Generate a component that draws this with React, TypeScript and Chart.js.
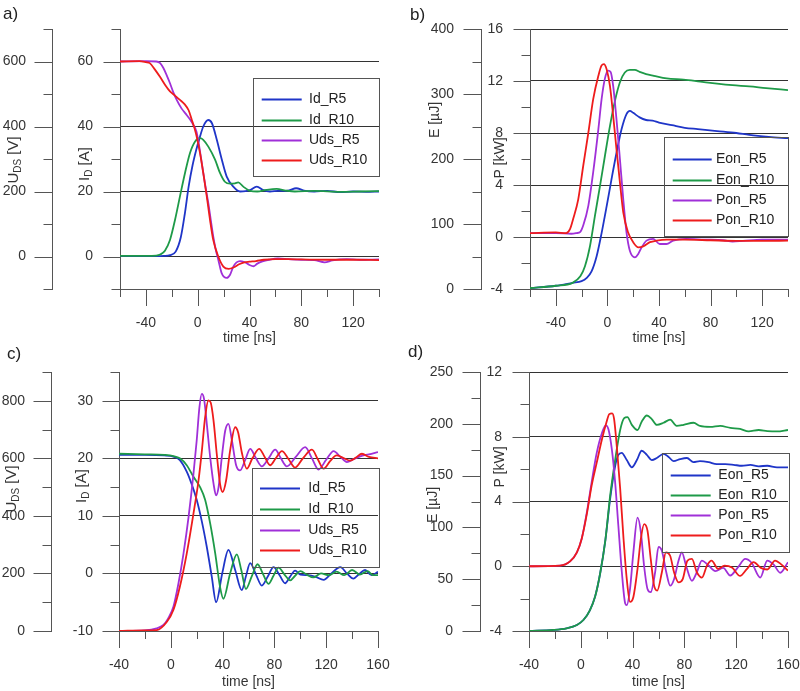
import React, { useEffect, useRef } from 'react';
import { Chart, registerables } from 'chart.js';

Chart.register(...registerables);

const FF = "'Liberation Sans', Arial, Helvetica, sans-serif";
const TEXT = '#353535';
const AXIS = '#555555';
const GRID = '#333333';
const BLUE = '#1f35c8';
const GREEN = '#1e9a48';
const PURPLE = '#a030d8';
const RED = '#ee1c1c';

// ---------- Panel a) data ----------
const aIdR5T = [-60, -40, -26, -21.4, -17, -13, -10, -7, -4, -1, 1.5, 4.3, 8.2, 11, 14.7, 18.5, 22.4, 27.5, 32.7, 37, 40.4, 45.6, 50.7, 55.8, 62, 70, 76, 82, 90, 100, 110, 120, 130, 140];
const aIdR5V = [0.2, 0.1, 0.2, 0.4, 1.5, 6, 13, 21.5, 28, 33, 36.5, 40, 42, 41, 36, 30, 24.6, 21.5, 20, 20.1, 20.4, 21.5, 20.4, 20, 20.2, 20.3, 21, 20.3, 20, 20.2, 19.8, 20, 19.9, 20];
const aIdR10T = [-60, -40, -32, -29, -25.3, -21.4, -17.5, -13.7, -9.8, -6, -2, 1.8, 4.3, 8.2, 13.4, 17.2, 21, 25, 28.8, 31.3, 35.2, 40.4, 46, 53, 61, 68, 75, 90, 110, 125, 140];
const aIdR10V = [0.2, 0.2, 0.3, 0.6, 1.8, 5.1, 11.3, 18.5, 25.7, 31.8, 35.4, 36.4, 35.9, 33.8, 29.8, 25.7, 23, 22.4, 22.5, 22.8, 21.5, 20.2, 20, 20.5, 20.8, 20.3, 20, 20.2, 19.9, 20, 20.1];
const aUdsR5T = [-60, -40, -32, -29, -26.5, -24, -21.4, -18.8, -16.2, -12.4, -9, -6, -3.4, -1, 0.5, 2.5, 4.3, 6.2, 8.2, 10, 12, 14, 15.9, 18.5, 22.4, 25, 27.5, 30, 32.7, 36, 40, 43, 46, 50, 55, 62, 70, 80, 90, 98, 104, 115, 125, 140];
const aUdsR5V = [600, 601, 600, 595, 580, 558, 533, 505, 482, 455, 438, 422, 405, 385, 355, 305, 257, 210, 164, 115, 62, 20, -10, -51, -66, -56, -31, -18, -14, -17, -26, -30, -22, -15, -10, -6, -8, -10, -11, -18, -12, -8, -10, -9];
const aUdsR10T = [-60, -45, -40, -37, -33, -29, -25, -21.4, -17.5, -13.7, -10, -7, -4.6, -2.5, -0.8, 1.8, 4.3, 7, 9.5, 12, 15.9, 19.8, 24, 28, 32, 36, 40, 45, 51, 60, 70, 80, 100, 120, 140];
const aUdsR10V = [600, 601, 598, 595, 575, 552, 527, 508, 495, 482, 468, 450, 421, 395, 369, 318, 257, 185, 113, 51, 0, -31, -38, -33, -24, -18, -16, -14, -10, -8, -8, -9, -10, -10, -11];

// ---------- Panel b) data ----------
const bEonR5T = [-60, -40, -27, -20, -16, -12.3, -8.4, -4.5, -0.6, 3.2, 7.1, 11, 14.8, 17.4, 20, 25, 30, 35, 40, 50, 60, 70, 85, 100, 110, 125, 140];
const bEonR5V = [1.5, 5, 9.5, 12, 17, 27, 50, 86, 127, 169, 210, 246, 269, 274, 271, 264, 260, 259, 256, 252, 248, 246, 243, 240, 237, 234, 232];
const bEonR10T = [-60, -40, -27, -21, -17.4, -13.5, -9.7, -5.8, -1.9, 2, 5.8, 9.7, 13.5, 17.4, 21.3, 25, 30, 36, 46, 59, 72, 85, 97, 110, 123, 140];
const bEonR10V = [1.5, 5, 9.5, 19.5, 35, 66, 112, 158, 205, 251, 289, 318, 333, 337, 337, 334, 330.6, 328, 324, 322, 319, 316, 313.6, 311.6, 309, 306];
const bPonR5T = [-60, -40, -28, -24, -21, -18.7, -14.8, -11, -7, -4.5, -1.9, 0.6, 2.5, 4.5, 7, 9.7, 12.3, 14.8, 17.4, 21.3, 23.9, 26.5, 30.3, 35.5, 40.6, 45.8, 51, 61, 75, 90, 97, 105, 120, 140];
const bPonR5V = [0.3, 0.3, 0.25, 0.3, 0.4, 0.9, 2.4, 5, 8.3, 10.6, 12.2, 12.8, 12.7, 11.6, 9.1, 6, 2.9, 0.36, -1.05, -1.56, -1.3, -0.8, -0.28, -0.15, -0.54, -0.54, -0.28, -0.15, -0.2, -0.25, -0.35, -0.3, -0.2, -0.2];
const bPonR10T = [-60, -40, -32, -29, -26.5, -22.6, -18.7, -14.8, -11, -7, -4.5, -2.7, -0.6, 2, 4.5, 7, 9.7, 12.3, 16, 20, 24, 27.7, 33, 38, 46, 60, 80, 100, 120, 140];
const bPonR10V = [0.3, 0.35, 0.3, 0.6, 1.4, 2.9, 5.5, 8, 10.6, 12.4, 13.2, 13.3, 12.9, 11.6, 9.3, 6.8, 4.2, 1.9, 0.36, -0.4, -0.8, -0.72, -0.4, -0.28, -0.2, -0.2, -0.25, -0.3, -0.3, -0.28];

// ---------- Panel c) data ----------
const cIdR5T = [-40, -20, -5, 2, 7, 12.3, 16, 20, 24, 27.8, 31.6, 35, 39.7, 44.5, 49.7, 54.8, 58, 61.3, 65.8, 70.3, 75, 79.3, 84, 88.3, 92, 96, 100, 106, 112, 118, 124, 130.9, 136, 141, 145.5, 150, 155, 160];
const cIdR5V = [20.6, 20.6, 20.5, 20.3, 19.7, 17.7, 15.6, 12.8, 9, 4.6, -0.5, -5, 0, 4.1, 0.6, -2.9, -0.5, 1.8, -0.2, -2.1, -0.5, 1.1, -0.3, -1.7, -0.6, 0.5, -0.2, -0.3, -0.6, -1.1, 0, 1.1, 0, -0.9, -0.1, 0.6, -0.3, 0.3];
const cIdR10T = [-40, -20, -5, 2, 7, 12.3, 17.5, 22.6, 26.5, 30.4, 34.3, 38, 40.6, 45.8, 51, 54.5, 58, 62.5, 67, 71, 75.4, 79.3, 83.2, 87.5, 92.2, 96, 100, 105, 110, 116, 122, 128, 134, 140, 146, 152, 156, 160];
const cIdR10V = [20.8, 20.7, 20.6, 20.4, 20, 18.8, 16.8, 15, 12.8, 8.7, 3.5, -2.3, -4.4, 0, 3.3, 0.5, -2.7, -0.5, 1.6, 0, -1.8, -0.4, 1, -0.1, -1.2, -0.4, 0.4, -0.2, -0.7, 0, -0.3, 0.3, -0.3, 0.6, -0.2, 0.4, -0.3, -0.3];
const cUdsR5T = [-40, -20, -11, -5.7, -2, 2, 5.9, 9.8, 13.7, 17.5, 20, 22.1, 23.9, 25.7, 27.8, 30.4, 33, 35, 36.9, 39.4, 42, 44.5, 47.2, 50.5, 53.5, 57.5, 61.3, 65.8, 70.3, 75.5, 80.6, 85, 89.6, 96.5, 103.8, 109, 114, 120, 125.7, 131, 136, 141, 146.3, 153, 160];
const cUdsR5V = [0, 2, 9, 21, 44, 84, 165, 269, 396, 546, 662, 777, 824, 806, 720, 604, 512, 471, 500, 604, 696, 720, 662, 575, 558, 595, 633, 600, 572, 600, 630, 600, 572, 605, 639, 600, 561, 595, 625, 605, 587, 597, 607, 614, 622];
const cUdsR10T = [-40, -20, -11, -3, 2, 7, 12.3, 17.5, 21.4, 24, 26.5, 29, 30.8, 33, 35.5, 38, 40, 42.7, 45.8, 49.7, 52, 54.8, 58.7, 63, 68.2, 72.5, 76.7, 81, 85.8, 91, 96, 102, 109, 113.5, 118, 123, 128, 133, 138.6, 143, 147.6, 153, 160];
const cUdsR10V = [0, 2, 3, 32, 73, 154, 269, 408, 523, 627, 742, 801, 794, 731, 615, 512, 483, 523, 627, 708, 690, 621, 564, 600, 633, 605, 576, 600, 625, 597, 568, 600, 630, 597, 564, 590, 610, 602, 592, 603, 616, 605, 600];

// ---------- Panel d) data ----------
const dEonR5T = [-40, -21, -11, -3, 2, 7, 11, 15, 19, 22.6, 26.5, 29, 31.6, 35.5, 39.4, 43.3, 47, 51, 54.8, 58.7, 63.9, 67.8, 71.6, 76.8, 82, 87, 92, 98.7, 105, 111.6, 118, 124.4, 131, 137.4, 144, 151.5, 160];
const dEonR5V = [0, 1, 2.6, 5.8, 10.6, 20, 33, 56, 88, 127, 159, 170, 172, 165, 158, 165, 174, 170, 165, 167, 171, 168, 164, 166, 167, 163, 164, 163, 161, 161, 160.4, 159.5, 160.4, 159, 159.5, 158, 158];
const dEonR10T = [-40, -21, -11, -3, 2, 7, 11, 15, 19, 22.6, 26.5, 30.4, 33.5, 36, 39.4, 43.8, 47, 51, 54.8, 58.7, 63.9, 69, 74, 79.4, 87, 92, 100, 107.7, 115.5, 123, 129.6, 137.4, 144, 151.5, 160];
const dEonR10V = [0, 1, 2.6, 5.8, 10.6, 20, 33, 56, 88, 130, 165, 194, 205.5, 206.5, 199, 194, 202, 208, 204.6, 199, 201, 204, 198, 199, 201, 198, 197, 198, 196, 195, 192.6, 194, 193, 192.6, 194];
const dPonR5T = [-40, -16, -8.3, -3, 0.7, 4.6, 8.4, 12.3, 16.2, 19.3, 21.4, 24, 26.5, 29, 31.7, 34.3, 35.5, 38, 40.6, 43.8, 46.4, 48.9, 51.5, 54, 57.4, 60, 62.6, 66, 69, 72, 75.5, 78, 81.4, 85.8, 89.6, 93.5, 98, 104, 110, 115.4, 121, 127, 132, 138.6, 144, 149, 154, 160];
const dPonR5V = [0, 0.04, 0.3, 0.86, 1.7, 3.3, 5.2, 7, 8.2, 8.7, 8.45, 7.2, 5.2, 2.5, -0.37, -2.3, -2.4, -1.4, 0.86, 3, 2.1, 0, -1.4, -1.6, -0.37, 1.2, 0.96, -0.37, -1.2, -0.8, 0.35, 0.86, 0, -0.9, -0.37, 0.35, 0.1, -0.3, -0.1, -0.57, -0.1, 0.45, 0.2, -0.7, 0.35, 0.1, -0.4, 0.25];
const dPonR10T = [-40, -16, -8.3, -3, 0.7, 4.6, 8.4, 12.3, 16.2, 19.5, 22, 24.2, 25.7, 27.8, 30.4, 33, 35.5, 38, 40.6, 43.8, 46.4, 48.9, 51.5, 54, 56.6, 59, 62.6, 65.7, 69, 72, 75.5, 78.7, 82.4, 85.8, 89.6, 93.5, 97.4, 101, 106, 111, 117, 123, 128, 133.4, 139, 144, 150, 155, 160];
const dPonR10V = [0, 0.04, 0.3, 0.86, 1.7, 3.2, 5, 6.4, 7.8, 8.8, 9.4, 9.45, 9.1, 7.4, 4.8, 1.7, -0.8, -2.2, -1.9, -0.16, 1.7, 2.6, 2.2, 0.45, -1.2, -1.5, -0.37, 0.86, 0.65, -0.37, -1, -0.8, 0.35, 0.45, -0.37, -0.7, 0.04, 0.35, -0.16, 0.04, -0.1, -0.6, -0.2, 0.25, -0.1, -0.2, 0.35, 0.1, -0.27];

// ---------- helpers ----------
function isMajor(v: number, m: number) {
  const r = v / m;
  return Math.abs(r - Math.round(r)) < 1e-6;
}

function series(label: string, t: number[], v: number[], color: string, axis: string, order: number) {
  return {
    label,
    data: t.map((x, i) => ({ x, y: v[i] })),
    borderColor: color,
    backgroundColor: color,
    borderWidth: 1.8,
    pointRadius: 0,
    cubicInterpolationMode: 'monotone',
    fill: false,
    yAxisID: axis,
    order,
  };
}

function zeroPad(s: any) {
  s.paddingTop = 0;
  s.paddingBottom = 0;
  s.paddingLeft = 0;
  s.paddingRight = 0;
}

function yScale(min: number, max: number, step: number, major: number, width: number, weight: number, grid: boolean, pad: number) {
  return {
    type: 'linear',
    position: 'left',
    min,
    max,
    weight,
    afterFit: (s: any) => { s.width = width; zeroPad(s); },
    ticks: {
      stepSize: step,
      autoSkip: false,
      maxTicksLimit: 40,
      padding: pad,
      color: TEXT,
      font: { family: FF, size: 14 },
      callback: (v: any) => (isMajor(Number(v), major) ? String(Math.round(Number(v) * 1000) / 1000) : ''),
    },
    grid: grid
      ? {
          display: true,
          drawOnChartArea: true,
          drawTicks: false,
          lineWidth: 1,
          color: (c: any) => (c.tick && isMajor(c.tick.value, major) ? GRID : 'rgba(0,0,0,0)'),
        }
      : { display: false, drawTicks: false },
    border: { display: true, color: AXIS, width: 1 },
  };
}

function xScale(min: number, max: number, height: number) {
  return {
    type: 'linear',
    position: 'bottom',
    min,
    max,
    afterFit: (s: any) => { s.height = height; zeroPad(s); },
    ticks: {
      stepSize: 20,
      autoSkip: false,
      maxTicksLimit: 40,
      maxRotation: 0,
      minRotation: 0,
      padding: 26,
      color: TEXT,
      font: { family: FF, size: 14 },
      callback: (v: any) => (isMajor(Number(v), 40) ? String(Number(v)) : ''),
    },
    grid: { display: false, drawTicks: false },
    border: { display: true, color: AXIS, width: 1 },
    title: { display: true, text: 'time [ns]', color: TEXT, font: { family: FF, size: 14 }, padding: { top: 0, bottom: 0 } },
  };
}

const decor = {
  id: 'decor',
  afterDraw(chart: any, _args: any, o: any) {
    const ctx = chart.ctx;
    ctx.save();
    // tick marks (major long / minor short)
    ctx.strokeStyle = AXIS;
    ctx.lineWidth = 1;
    (o.ticks || []).forEach((t: any) => {
      const s = chart.scales[t.id];
      s.ticks.forEach((tk: any) => {
        const len = isMajor(tk.value, t.step) ? t.major : t.minor;
        const p = Math.round(s.getPixelForValue(tk.value)) + 0.5;
        ctx.beginPath();
        if (s.isHorizontal()) {
          const y = Math.round(s.top);
          ctx.moveTo(p, y);
          ctx.lineTo(p, y + len);
        } else {
          const x = Math.round(s.right) + 0.5;
          ctx.moveTo(x - len, p);
          ctx.lineTo(x, p);
        }
        ctx.stroke();
      });
    });
    // rotated axis titles with subscripts
    (o.titles || []).forEach((ti: any) => {
      ctx.save();
      ctx.translate(ti.x, ti.y);
      ctx.rotate(-Math.PI / 2);
      ctx.fillStyle = TEXT;
      ctx.textBaseline = 'middle';
      ctx.textAlign = 'left';
      let total = 0;
      ti.parts.forEach((pt: any) => {
        ctx.font = `${pt[1]}px ${FF}`;
        total += ctx.measureText(pt[0]).width;
      });
      let x = -total / 2;
      ti.parts.forEach((pt: any) => {
        ctx.font = `${pt[1]}px ${FF}`;
        ctx.fillText(pt[0], x, pt[2]);
        x += ctx.measureText(pt[0]).width;
      });
      ctx.restore();
    });
    // legend box
    const L = o.legend;
    if (L) {
      ctx.strokeStyle = '#555555';
      ctx.lineWidth = 1;
      ctx.strokeRect(Math.round(L.x) + 0.5, Math.round(L.y) + 0.5, Math.round(L.w), Math.round(L.h));
      ctx.font = `14px ${FF}`;
      ctx.textBaseline = 'middle';
      ctx.textAlign = 'left';
      chart.data.datasets.forEach((ds: any, i: number) => {
        const y = Math.round(L.row0 + i * L.gap) + 0.5;
        ctx.strokeStyle = ds.borderColor;
        ctx.lineWidth = 2;
        ctx.beginPath();
        ctx.moveTo(L.l0, y);
        ctx.lineTo(L.l1, y);
        ctx.stroke();
        ctx.fillStyle = '#222222';
        ctx.fillText(ds.label, L.tx, y);
      });
    }
    ctx.restore();
  },
};

function baseOptions(padding: any, scales: any, decorOpts: any) {
  return {
    responsive: false,
    animation: false,
    events: [],
    layout: { padding },
    plugins: { legend: { display: false }, tooltip: { enabled: false }, title: { display: false }, decor: decorOpts },
    scales,
  };
}

const sub = (a: string, b: string, c: string) => [[a, 15, 0], [b, 10, 4], [c, 15, 0]];
const plain = (a: string) => [[a, 14, 0]];

function configA() {
  return {
    type: 'line',
    data: {
      datasets: [
        series('Id_R5', aIdR5T, aIdR5V, BLUE, 'yI', 3),
        series('Id_R10', aIdR10T, aIdR10V, GREEN, 'yI', 2),
        series('Uds_R5', aUdsR5T, aUdsR5V, PURPLE, 'yU', 1),
        series('Uds_R10', aUdsR10T, aUdsR10V, RED, 'yU', 0),
      ],
    },
    options: baseOptions(
      { left: 0, top: 29, right: 21, bottom: 0 },
      {
        yU: yScale(-100, 700, 100, 200, 52, 2, false, 26),
        yI: yScale(-10, 70, 10, 20, 68, 1, true, 27),
        x: xScale(-60, 140, 58),
      },
      {
        ticks: [
          { id: 'yU', step: 200, major: 18, minor: 9 },
          { id: 'yI', step: 20, major: 17, minor: 9 },
          { id: 'x', step: 40, major: 17, minor: 8 },
        ],
        titles: [
          { x: 14, y: 160, parts: sub('U', 'DS', ' [V]') },
          { x: 85, y: 164, parts: sub('I', 'D', ' [A]') },
        ],
        legend: { x: 253.3, y: 78.3, w: 125.7, h: 98.4, row0: 99.3, gap: 20.2, l0: 261.7, l1: 301.7, tx: 309 },
      }
    ),
    plugins: [decor],
  };
}

function configB() {
  return {
    type: 'line',
    data: {
      datasets: [
        series('Eon_R5', bEonR5T, bEonR5V, BLUE, 'yE', 3),
        series('Eon_R10', bEonR10T, bEonR10V, GREEN, 'yE', 2),
        series('Pon_R5', bPonR5T, bPonR5V, PURPLE, 'yP', 1),
        series('Pon_R10', bPonR10T, bPonR10V, RED, 'yP', 0),
      ],
    },
    options: baseOptions(
      { left: 0, top: 29, right: 12, bottom: 0 },
      {
        yE: yScale(0, 400, 50, 100, 81, 2, false, 27),
        yP: yScale(-4, 16, 2, 4, 49, 1, true, 27),
        x: xScale(-60, 140, 58),
      },
      {
        ticks: [
          { id: 'yE', step: 100, major: 18, minor: 9 },
          { id: 'yP', step: 4, major: 17, minor: 9 },
          { id: 'x', step: 40, major: 17, minor: 8 },
        ],
        titles: [
          { x: 35, y: 120, parts: plain('E [µJ]') },
          { x: 100, y: 158, parts: plain('P [kW]') },
        ],
        legend: { x: 264.3, y: 137.3, w: 124, h: 98.7, row0: 159.3, gap: 20.2, l0: 272.7, l1: 311.7, tx: 316 },
      }
    ),
    plugins: [decor],
  };
}

function configC() {
  return {
    type: 'line',
    data: {
      datasets: [
        series('Id_R5', cIdR5T, cIdR5V, BLUE, 'yI', 3),
        series('Id_R10', cIdR10T, cIdR10V, GREEN, 'yI', 2),
        series('Uds_R5', cUdsR5T, cUdsR5V, PURPLE, 'yU', 1),
        series('Uds_R10', cUdsR10T, cUdsR10V, RED, 'yU', 0),
      ],
    },
    options: baseOptions(
      { left: 0, top: 27, right: 22, bottom: 0 },
      {
        yU: yScale(0, 900, 100, 200, 51, 2, false, 26),
        yI: yScale(-10, 35, 5, 10, 68, 1, true, 26),
        x: xScale(-40, 160, 60),
      },
      {
        ticks: [
          { id: 'yU', step: 200, major: 18, minor: 9 },
          { id: 'yI', step: 10, major: 17, minor: 9 },
          { id: 'x', step: 40, major: 17, minor: 8 },
        ],
        titles: [
          { x: 12, y: 144, parts: sub('U', 'DS', ' [V]') },
          { x: 82, y: 141, parts: sub('I', 'D', ' [A]') },
        ],
        legend: { x: 251.7, y: 122.7, w: 127.3, h: 99, row0: 143.3, gap: 20.6, l0: 260, l1: 300, tx: 308.3 },
      }
    ),
    plugins: [decor],
  };
}

function configD() {
  return {
    type: 'line',
    data: {
      datasets: [
        series('Eon_R5', dEonR5T, dEonR5V, BLUE, 'yE', 3),
        series('Eon_R10', dEonR10T, dEonR10V, GREEN, 'yE', 2),
        series('Pon_R5', dPonR5T, dPonR5V, PURPLE, 'yP', 1),
        series('Pon_R10', dPonR10T, dPonR10V, RED, 'yP', 0),
      ],
    },
    options: baseOptions(
      { left: 0, top: 27, right: 12, bottom: 0 },
      {
        yE: yScale(0, 250, 25, 50, 80, 2, false, 27),
        yP: yScale(-4, 12, 2, 4, 49, 1, true, 27),
        x: xScale(-40, 160, 60),
      },
      {
        ticks: [
          { id: 'yE', step: 50, major: 18, minor: 9 },
          { id: 'yP', step: 4, major: 17, minor: 9 },
          { id: 'x', step: 40, major: 17, minor: 8 },
        ],
        titles: [
          { x: 33, y: 160, parts: plain('E [µJ]') },
          { x: 100, y: 122, parts: plain('P [kW]') },
        ],
        legend: { x: 262.3, y: 108.3, w: 127, h: 99, row0: 130, gap: 20.1, l0: 270.7, l1: 310.7, tx: 318.3 },
      }
    ),
    plugins: [decor],
  };
}

function Panel(props: { left: number; top: number; width: number; height: number; make: () => any }) {
  const ref = useRef<HTMLCanvasElement | null>(null);
  useEffect(() => {
    if (!ref.current) return;
    const chart = new Chart(ref.current, props.make() as any);
    return () => chart.destroy();
  }, []);
  return (
    <canvas
      ref={ref}
      width={props.width}
      height={props.height}
      style={{ position: 'absolute', left: props.left, top: props.top, width: props.width, height: props.height }}
    />
  );
}

const labelStyle = (left: number, top: number): React.CSSProperties => ({
  position: 'absolute',
  left,
  top,
  fontFamily: FF,
  fontSize: 17,
  lineHeight: '17px',
  color: '#222',
});

export default function App() {
  return (
    <div style={{ position: 'absolute', left: 0, top: 0, width: 800, height: 691, background: '#fff', overflow: 'hidden' }}>
      <Panel left={0} top={0} width={400} height={347} make={configA} />
      <Panel left={400} top={0} width={400} height={347} make={configB} />
      <Panel left={0} top={345} width={400} height={346} make={configC} />
      <Panel left={400} top={345} width={400} height={346} make={configD} />
      <div style={labelStyle(3, 5)}>a)</div>
      <div style={labelStyle(410, 6)}>b)</div>
      <div style={labelStyle(7, 345)}>c)</div>
      <div style={labelStyle(408, 343)}>d)</div>
    </div>
  );
}
